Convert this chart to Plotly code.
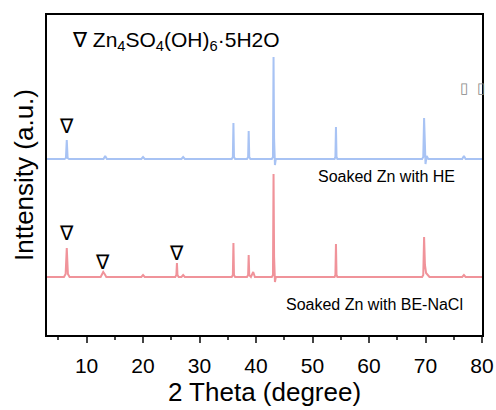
import plotly.graph_objects as go

# 2-theta positions and intensities (arbitrary units, relative to each baseline)
he_x = [3.0, 6.1, 6.35, 6.5, 6.65, 6.9, 13.0, 13.3, 13.6, 19.7, 20.0, 20.3, 26.8, 27.1, 27.4,
        35.7, 35.9, 36.0, 36.1, 36.3, 38.4, 38.6, 38.7, 38.8, 39.0,
        42.8, 43.0, 43.1, 43.2, 43.35, 43.5, 53.9, 54.05, 54.15, 54.25, 54.4,
        69.4, 69.6, 69.75, 69.9, 70.0, 70.2, 70.5, 76.5, 76.8, 77.1, 80.0]
he_y = [0, 0, 1, 19, 1, 0, 0, 3, 0, 0, 2, 0, 0, 2, 0,
        0, 2, 36, 2, 0, 0, 2, 28, 2, 0,
        0, 2, 102, 20, -6, 0, 0, 2, 32, 2, 0,
        0, 2, 41, 10, -5, 3, 0, 0, 3, 0, 0]

na_x = [3.0, 6.0, 6.3, 6.5, 6.7, 7.0, 12.5, 12.8, 12.95, 13.2, 13.5, 19.7, 20.0, 20.3,
        25.7, 25.9, 26.0, 26.1, 26.3, 26.8, 27.1, 27.4,
        35.7, 35.9, 36.0, 36.1, 36.3, 38.4, 38.6, 38.7, 38.8, 39.1, 39.5, 39.8,
        42.8, 43.0, 43.1, 43.2, 43.35, 43.5, 53.9, 54.05, 54.15, 54.25, 54.4,
        69.4, 69.6, 69.75, 69.9, 70.1, 70.4, 70.7, 76.5, 76.8, 77.1, 80.0]
na_y = [0, 0, 3, 29, 3, 0, 0, 4, 5, 3, 0, 0, 2, 0,
        0, 2, 14, 2, 0, 0, 2, 0,
        0, 2, 34, 2, 0, 0, 2, 22, 2, 0, 5, 0,
        0, 2, 103, 20, -5, 0, 0, 2, 33, 2, 0,
        0, 2, 40, 12, 4, 2, 0, 0, 2, 0, 0]

he_offset = 176
na_offset = 58

# marked Zn4SO4(OH)6·5H2O reflections
he_marks_x = [6.5]
he_marks_y = [33]
na_marks_x = [6.5, 12.9, 26.0]
na_marks_y = [44, 15, 24]

x_ticks = [10, 20, 30, 40, 50, 60, 70, 80]

fig = go.Figure()
fig.add_trace(go.Scatter(x=he_x, y=[v + he_offset for v in he_y], mode="lines",
                         line=dict(color="#a8c3f4", width=2), showlegend=False))
fig.add_trace(go.Scatter(x=na_x, y=[v + na_offset for v in na_y], mode="lines",
                         line=dict(color="#f0939a", width=2), showlegend=False))

for mx, my in zip(he_marks_x, he_marks_y):
    fig.add_annotation(x=mx, y=my + he_offset, text="∇", showarrow=False,
                       font=dict(size=20, color="black"))
for mx, my in zip(na_marks_x, na_marks_y):
    fig.add_annotation(x=mx, y=my + na_offset, text="∇", showarrow=False,
                       font=dict(size=20, color="black"))

fig.add_annotation(x=0.052, y=0.918, xref="paper", yref="paper", xanchor="left", yanchor="middle",
                   text="∇ Zn<sub>4</sub>SO<sub>4</sub>(OH)<sub>6</sub>·5H2O", showarrow=False,
                   font=dict(size=21, color="black"))
fig.add_annotation(x=0.943, y=0.495, xref="paper", yref="paper", xanchor="right", yanchor="middle",
                   text="Soaked Zn with HE", showarrow=False, font=dict(size=16, color="black"))
fig.add_annotation(x=0.961, y=0.094, xref="paper", yref="paper", xanchor="right", yanchor="middle",
                   text="Soaked Zn with BE-NaCl", showarrow=False, font=dict(size=16, color="black"))
for bx in [0.959, 0.998]:
    fig.add_annotation(x=bx, y=0.772, xref="paper", yref="paper", xanchor="center", yanchor="middle",
                       text="▯", showarrow=False, font=dict(size=15, color="#888888"))

fig.update_layout(
    width=496, height=410, autosize=False, showlegend=False,
    margin=dict(l=47, r=14, t=15, b=75, autoexpand=False),
    paper_bgcolor="white", plot_bgcolor="white",
    font=dict(family="Liberation Sans, Arial, sans-serif", color="black"),
    xaxis=dict(range=[3, 80], tickvals=x_ticks, ticks="outside", ticklen=6, tickwidth=1.5,
               showline=True, linecolor="black", linewidth=2, mirror=True, showgrid=False,
               zeroline=False, tickfont=dict(size=21), automargin=False, ticklabelstandoff=5,
               minor=dict(dtick=5, tick0=5, ticks="outside", ticklen=3, tickwidth=1.5),
               title=dict(text="2 Theta (degree)", font=dict(size=26), standoff=4)),
    yaxis=dict(range=[0, 320], showticklabels=False, ticks="", showline=True, linecolor="black",
               linewidth=2, mirror=True, showgrid=False, zeroline=False, automargin=False,
               title=dict(text="Inttensity (a.u.)", font=dict(size=26), standoff=4)),
)

fig.write_html("out.html")
